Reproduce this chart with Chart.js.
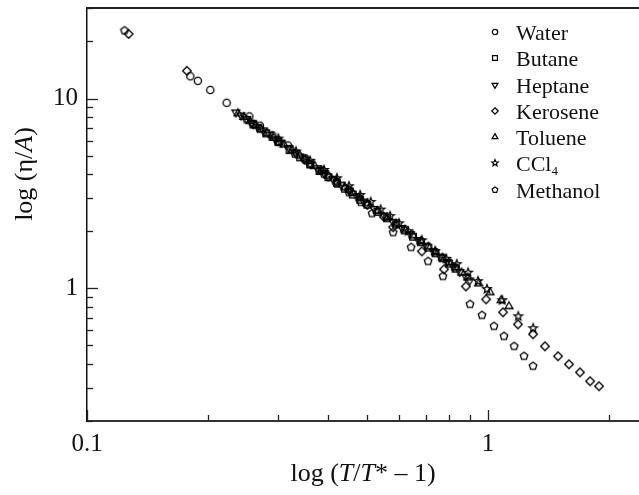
<!DOCTYPE html>
<html>
<head>
<meta charset="utf-8">
<script src="https://cdn.jsdelivr.net/npm/chart.js@4.4.1/dist/chart.umd.min.js"></script>
<style>
  html, body { margin: 0; padding: 0; background: #fff; overflow: hidden; }
  #wrap { width: 639px; height: 495px; position: relative; }
</style>
</head>
<body>
<div id="wrap"><canvas id="viscChart"></canvas></div>
<script>
// Series names (legend order)
const seriesNames = ['Water', 'Butane', 'Heptane', 'Kerosene', 'Toluene', 'CCl', 'Methanol'];

// [T/T* - 1, eta/A] pairs
const waterPts = [[0.181, 13.1], [0.189, 12.4], [0.203, 11.1], [0.223, 9.5], [0.254, 8.05], [0.27, 7.2],
  [0.29, 6.4], [0.317, 5.66], [0.35, 4.85], [0.385, 4.18], [0.42, 3.65]];
const butanePts = [[0.26, 7.3], [0.28, 6.55], [0.30, 5.9], [0.32, 5.35], [0.34, 4.9], [0.36, 4.5], [0.38, 4.15],
  [0.40, 3.85], [0.42, 3.6], [0.44, 3.35], [0.46, 3.12], [0.48, 2.93], [0.50, 2.76], [0.53, 2.53], [0.56, 2.34],
  [0.59, 2.17], [0.62, 2.02], [0.65, 1.87], [0.68, 1.75], [0.71, 1.64], [0.74, 1.53], [0.77, 1.44], [0.80, 1.35],
  [0.83, 1.27]];
const heptanePts = [[0.235, 8.45], [0.242, 8.15], [0.25, 7.8], [0.258, 7.45], [0.266, 7.1], [0.275, 6.8],
  [0.285, 6.45], [0.295, 6.1], [0.305, 5.85], [0.318, 5.5], [0.33, 5.2], [0.345, 4.85], [0.36, 4.55],
  [0.375, 4.3], [0.39, 4.05], [0.41, 3.78], [0.43, 3.52], [0.45, 3.28], [0.47, 3.06], [0.49, 2.87], [0.52, 2.62],
  [0.55, 2.42], [0.58, 2.24], [0.61, 2.08], [0.64, 1.93], [0.67, 1.8], [0.70, 1.68], [0.73, 1.57], [0.76, 1.47],
  [0.79, 1.38], [0.82, 1.3], [0.85, 1.22], [0.88, 1.15], [0.90, 1.1]];
const kerosenePts = [[0.127, 21.9], [0.1775, 14.0], [0.26, 7.3], [0.30, 5.95], [0.35, 4.75], [0.40, 3.88],
  [0.45, 3.3], [0.50, 2.75], [0.55, 2.38], [0.58, 2.1], [0.684, 1.566], [0.777, 1.259], [0.881, 1.024],
  [0.989, 0.875], [1.09, 0.748], [1.188, 0.646], [1.295, 0.573], [1.387, 0.495], [1.495, 0.439], [1.592, 0.398],
  [1.696, 0.361], [1.797, 0.324], [1.892, 0.305]];
const toluenePts = [[0.238, 8.35], [0.246, 8.0], [0.255, 7.6], [0.263, 7.25], [0.272, 6.9], [0.282, 6.55],
  [0.292, 6.2], [0.31, 5.72], [0.325, 5.35], [0.34, 5.0], [0.355, 4.68], [0.37, 4.4], [0.385, 4.15], [0.40, 3.92],
  [0.42, 3.65], [0.44, 3.4], [0.46, 3.18], [0.48, 2.98], [0.50, 2.8], [0.53, 2.56], [0.56, 2.36], [0.59, 2.19],
  [0.62, 2.04], [0.65, 1.9], [0.68, 1.77], [0.71, 1.66], [0.74, 1.55], [0.77, 1.45], [0.80, 1.37], [0.83, 1.29],
  [0.86, 1.21], [0.89, 1.14], [0.948, 1.06], [1.012, 0.952], [1.078, 0.865], [1.128, 0.804]];
const cclPts = [[0.30, 6.15], [0.332, 5.26], [0.36, 4.7], [0.39, 4.2], [0.42, 3.8], [0.45, 3.45], [0.48, 3.1],
  [0.51, 2.85], [0.54, 2.6], [0.57, 2.4], [0.60, 2.2], [0.632, 2.0], [0.684, 1.79], [0.738, 1.57], [0.787, 1.43],
  [0.836, 1.34], [0.892, 1.21], [0.944, 1.09], [0.994, 0.99], [1.085, 0.865], [1.19, 0.712], [1.296, 0.616]];
const methanolPts = [[0.124, 22.8], [0.25, 7.75], [0.27, 6.9], [0.30, 5.9], [0.33, 5.1], [0.36, 4.5], [0.39, 4.0],
  [0.42, 3.55], [0.45, 3.2], [0.482, 2.84], [0.514, 2.48], [0.58, 1.97], [0.643, 1.644], [0.709, 1.388],
  [0.772, 1.157], [0.902, 0.824], [0.966, 0.721], [1.035, 0.631], [1.096, 0.559], [1.162, 0.495], [1.23, 0.439],
  [1.295, 0.389]];

// Axis ticks
const xTicks = [0.1, 0.2, 0.3, 0.4, 0.5, 0.6, 0.7, 0.8, 0.9, 1, 2];
const xMajor = [0.1, 1];
const yTicks = [0.2, 0.3, 0.4, 0.5, 0.6, 0.7, 0.8, 0.9, 1, 2, 3, 4, 5, 6, 7, 8, 9, 10, 20, 30];
const yMajor = [1, 10];

const serif = "'Liberation Serif', 'Times New Roman', serif";

// Hollow marker images
function makeMarker(shape, r, lw) {
    const size = Math.ceil(r * 2.6) + 4;
    const c = document.createElement('canvas');
    c.width = size; c.height = size;
    const g = c.getContext('2d');
    const cx = size / 2, cy = size / 2;
    g.strokeStyle = '#000';
    g.lineWidth = lw;
    g.beginPath();
    const poly = (n, rad, rot) => {
        for (let i = 0; i < n; i++) {
            const a = rot + i * 2 * Math.PI / n;
            const px = cx + rad * Math.cos(a), py = cy + rad * Math.sin(a);
            if (i === 0) g.moveTo(px, py); else g.lineTo(px, py);
        }
        g.closePath();
    };
    if (shape === 'circle') {
        g.arc(cx, cy, r, 0, Math.PI * 2);
    } else if (shape === 'square') {
        const s = r * 0.9;
        g.rect(cx - s, cy - s, s * 2, s * 2);
    } else if (shape === 'triDown') {
        poly(3, r * 1.25, Math.PI / 2);
    } else if (shape === 'triUp') {
        poly(3, r * 1.25, -Math.PI / 2);
    } else if (shape === 'diamond') {
        poly(4, r * 1.2, -Math.PI / 2);
    } else if (shape === 'pentagon') {
        poly(5, r * 1.1, -Math.PI / 2);
    } else if (shape === 'star') {
        for (let i = 0; i < 10; i++) {
            const rad = i % 2 === 0 ? r * 1.25 : r * 0.55;
            const a = -Math.PI / 2 + i * Math.PI / 5;
            const px = cx + rad * Math.cos(a), py = cy + rad * Math.sin(a);
            if (i === 0) g.moveTo(px, py); else g.lineTo(px, py);
        }
        g.closePath();
    }
    g.stroke();
    return c;
}

const shapes = ['circle', 'square', 'triDown', 'diamond', 'triUp', 'star', 'pentagon'];
const seriesPts = [waterPts, butanePts, heptanePts, kerosenePts, toluenePts, cclPts, methanolPts];
const plotMarkers = shapes.map(s => makeMarker(s, 3.6, 1.3));
const legendMarkers = shapes.map(s => makeMarker(s, 2.7, 1.2));

const datasets = seriesNames.map((name, i) => ({
    label: name,
    data: seriesPts[i].map(p => ({ x: p[0], y: p[1] })),
    pointStyle: plotMarkers[i],
    pointRadius: 4,
    showLine: false
}));

// Inward ticks, top frame line, axis titles and legend
const decorations = {
    id: 'decorations',
    afterDraw(chart) {
        const ctx = chart.ctx;
        const area = chart.chartArea;
        const xs = chart.scales.x, ys = chart.scales.y;
        ctx.save();
        ctx.strokeStyle = '#222';
        ctx.lineWidth = 1.3;
        xTicks.forEach(v => {
            const px = Math.round(xs.getPixelForValue(v)) + 0.5;
            const len = xMajor.includes(v) ? 11 : 6;
            ctx.beginPath();
            ctx.moveTo(px, area.bottom);
            ctx.lineTo(px, area.bottom - len);
            ctx.stroke();
        });
        yTicks.forEach(v => {
            const py = Math.round(ys.getPixelForValue(v)) + 0.5;
            const len = yMajor.includes(v) ? 11 : 6;
            ctx.beginPath();
            ctx.moveTo(area.left, py);
            ctx.lineTo(area.left + len, py);
            ctx.stroke();
        });
        // top frame
        ctx.lineWidth = 2;
        ctx.strokeStyle = '#222';
        ctx.beginPath();
        ctx.moveTo(area.left, area.top);
        ctx.lineTo(area.right, area.top);
        ctx.stroke();

        // axis titles
        ctx.fillStyle = '#111';
        ctx.textBaseline = 'alphabetic';
        const reg = '26px ' + serif, ita = 'italic 26px ' + serif;
        const drawRuns = (runs, startX, baseY) => {
            let x = startX;
            runs.forEach(r => { ctx.font = r[1]; ctx.fillText(r[0], x, baseY); x += ctx.measureText(r[0]).width; });
        };
        const runsWidth = runs => runs.reduce((w, r) => { ctx.font = r[1]; return w + ctx.measureText(r[0]).width; }, 0);
        const xRuns = [['log (', reg], ['T', ita], ['/', reg], ['T', ita], ['* \u2013 1)', reg]];
        const xw = runsWidth(xRuns);
        ctx.textAlign = 'left';
        drawRuns(xRuns, (area.left + area.right) / 2 - xw / 2, 481);

        const yRuns = [['log (\u03b7/', reg], ['A', ita], [')', reg]];
        const yw = runsWidth(yRuns);
        ctx.save();
        ctx.translate(32, 174);
        ctx.rotate(-Math.PI / 2);
        drawRuns(yRuns, -yw / 2, 0);
        ctx.restore();

        // legend
        const rowY = [32, 58, 85, 111, 137, 163, 190];
        seriesNames.forEach((name, i) => {
            const m = legendMarkers[i];
            ctx.drawImage(m, 495 - m.width / 2, rowY[i] - m.height / 2);
            ctx.font = '22px ' + serif;
            ctx.fillText(name, 516, rowY[i] + 7.5);
            if (name === 'CCl') {
                const w = ctx.measureText(name).width;
                ctx.font = '13px ' + serif;
                ctx.fillText('4', 516 + w, rowY[i] + 12);
            }
        });
        ctx.restore();
    }
};

new Chart(document.getElementById('viscChart'), {
    type: 'scatter',
    data: { datasets: datasets },
    options: {
        responsive: true,
        maintainAspectRatio: false,
        animation: false,
        layout: { autoPadding: false, padding: { top: 8, right: 0, left: 0, bottom: 0 } },
        plugins: {
            legend: { display: false },
            tooltip: { enabled: false }
        },
        scales: {
            x: {
                type: 'logarithmic',
                min: 0.1,
                max: 2.38,
                afterBuildTicks: s => { s.ticks = xTicks.map(v => ({ value: v })); },
                afterFit: s => { s.height = 74; s.paddingLeft = 0; s.paddingRight = 0; },
                grid: { display: false, drawTicks: false },
                border: { display: true, color: '#333', width: 2 },
                ticks: {
                    autoSkip: false,
                    maxRotation: 0,
                    padding: 8,
                    color: '#111',
                    font: { family: serif, size: 25 },
                    callback: v => (xMajor.includes(v) ? String(v) : '')
                }
            },
            y: {
                type: 'logarithmic',
                min: 0.2,
                max: 30,
                afterBuildTicks: s => { s.ticks = yTicks.map(v => ({ value: v })); },
                afterFit: s => { s.width = 87; s.paddingTop = 0; s.paddingBottom = 0; },
                grid: { display: false, drawTicks: false },
                border: { display: true, color: '#111', width: 1.5 },
                ticks: {
                    autoSkip: false,
                    padding: 9,
                    color: '#111',
                    font: { family: serif, size: 25 },
                    callback: v => (yMajor.includes(v) ? String(v) : '')
                }
            }
        }
    },
    plugins: [decorations]
});
</script>
</body>
</html>
